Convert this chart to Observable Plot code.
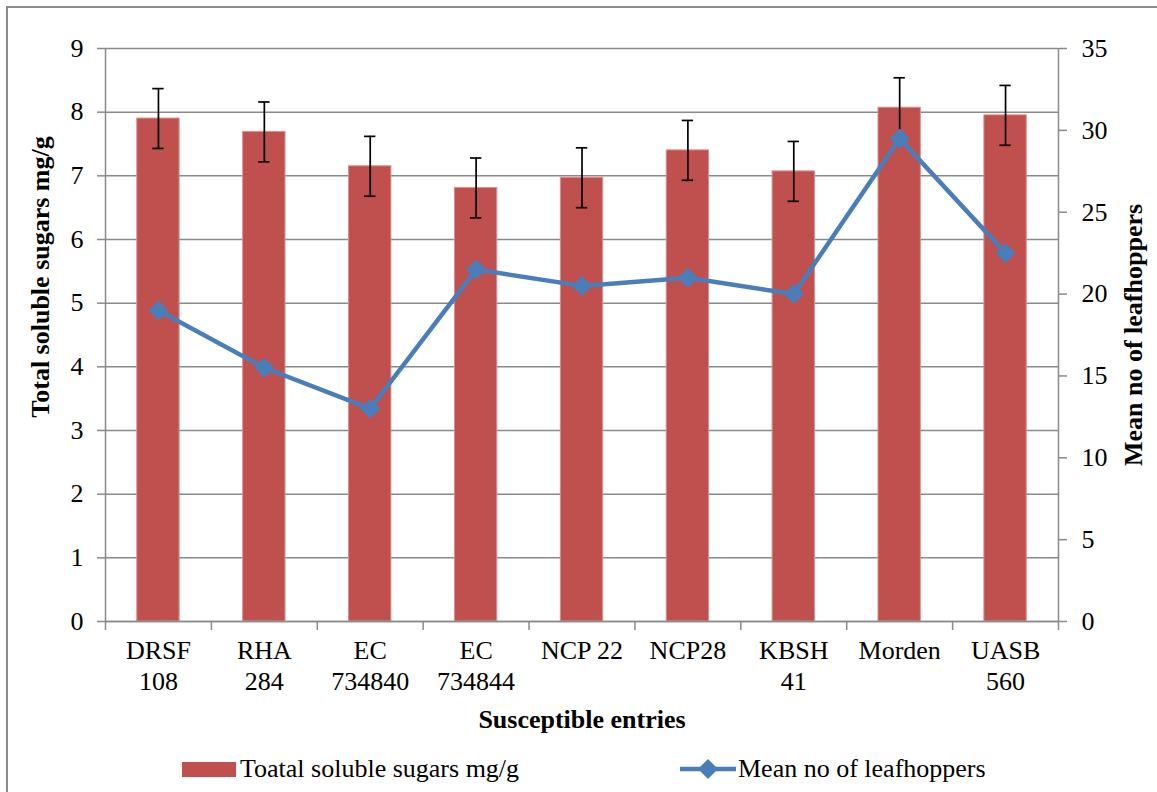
<!DOCTYPE html>
<html>
<head>
<meta charset="utf-8">
<script src="https://cdn.jsdelivr.net/npm/d3@7"></script>
<script src="https://cdn.jsdelivr.net/npm/@observablehq/plot@0.6"></script>
<style>
  html, body { margin: 0; padding: 0; background: #fff; overflow: hidden; }
  body { width: 1157px; height: 792px; position: relative; font-family: "Liberation Serif", "Times New Roman", serif; }
  #chart { position: absolute; left: 0; top: 0; }
  #chart svg, #chart svg text { font-family: "Liberation Serif", "Times New Roman", serif !important; }
  #frame { position: absolute; left: 6px; top: 6px; width: 1300px; height: 900px; border-left: 2px solid #8c8c8c; border-top: 2px solid #8c8c8c; z-index: 2; pointer-events: none; }
  .leg { position: absolute; font-size: 26px; line-height: 26px; color: #000; white-space: nowrap; }
</style>
</head>
<body>
<div id="chart"></div>
<div id="frame"></div>
<div id="legend"></div>
<script>
// ---- data ----
const categories = ["DRSF\n108", "RHA\n284", "EC\n734840", "EC\n734844", "NCP 22", "NCP28", "KBSH\n41", "Morden", "UASB\n560"];
const sugars = [7.90, 7.69, 7.15, 6.81, 6.97, 7.40, 7.07, 8.07, 7.95];
const sugarErrors = [0.47, 0.47, 0.47, 0.47, 0.47, 0.47, 0.47, 0.47, 0.47];
const leafhoppers = [19, 15.5, 13, 21.5, 20.5, 21, 20, 29.5, 22.5];
const leftTicks = [0, 1, 2, 3, 4, 5, 6, 7, 8, 9];
const rightTicks = [0, 5, 10, 15, 20, 25, 30, 35];
const leftMax = 9, rightMax = 35;
const seriesNames = ["Toatal soluble sugars mg/g", "Mean no of leafhoppers"];
const axisTitles = {left: "Total soluble sugars mg/g", right: "Mean no of leafhoppers", bottom: "Susceptible entries"};

const barColor = "#C0504D";
const lineColor = "#4A7EBB";
const gridColor = "#8a8a8a";
const serif = "'Liberation Serif', 'Times New Roman', serif";

const data = categories.map((c, i) => ({
  cat: c, sugar: sugars[i], err: sugarErrors[i], hop: leafhoppers[i]
}));
const toLeft = v => v * leftMax / rightMax;

const W = 1157, H = 745;
const mL = 105, mR = 99, mT = 48, mB = 124;
const step = (W - mL - mR) / categories.length;

const plot = Plot.plot({
  width: W, height: H,
  marginLeft: mL, marginRight: mR, marginTop: mT, marginBottom: mB,
  style: {fontFamily: serif, fontSize: "26px", background: "transparent", color: "#000"},
  x: {type: "band", domain: categories, paddingInner: 0.6, paddingOuter: 0.3, round: false},
  y: {domain: [0, leftMax]},
  marks: [
    Plot.gridY(leftTicks, {stroke: gridColor, strokeOpacity: 1, strokeWidth: 1.5}),
    Plot.axisY(leftTicks, {anchor: "left", tickSize: 8, tickPadding: 14, stroke: gridColor, strokeWidth: 1.5, label: null,
      fontSize: 26, fontFamily: serif, tickFormat: d => String(d)}),
    Plot.axisY(rightTicks.map(toLeft), {anchor: "right", tickSize: 8, tickPadding: 15, stroke: gridColor, strokeWidth: 1.5, label: null,
      fontSize: 26, fontFamily: serif, tickFormat: d => String(Math.round(d * rightMax / leftMax))}),
    Plot.axisX({tickSize: 0, tickPadding: 15, lineHeight: 1.2, label: null, fontSize: 26, fontFamily: serif}),
    Plot.barY(data, {x: "cat", y: "sugar", fill: barColor, stroke: "#d9908e", strokeWidth: 1}),
    // axis lines and category boundary ticks
    Plot.ruleX([categories[0]], {x: d => d, y1: leftMax, y2: 0, dx: -step / 2, insetBottom: -9, stroke: gridColor, strokeWidth: 1.5}),
    Plot.ruleX([categories[categories.length - 1]], {x: d => d, y1: leftMax, y2: 0, dx: step / 2, insetBottom: -9, stroke: gridColor, strokeWidth: 1.5}),
    Plot.ruleX(categories.slice(1), {x: d => d, y1: 0, y2: 0, dx: -step / 2, insetBottom: -9, stroke: gridColor, strokeWidth: 1.5}),
    Plot.ruleY([0], {stroke: gridColor, strokeWidth: 1.5}),
    // error bars
    Plot.ruleX(data, {x: "cat", y1: d => d.sugar - d.err, y2: d => d.sugar + d.err, stroke: "#000", strokeWidth: 1.7}),
    Plot.tickY(data, {x: "cat", y: d => d.sugar + d.err, stroke: "#000", strokeWidth: 1.7, insetLeft: 15.5, insetRight: 15.5}),
    Plot.tickY(data, {x: "cat", y: d => d.sugar - d.err, stroke: "#000", strokeWidth: 1.7, insetLeft: 15.5, insetRight: 15.5}),
    // leafhopper line
    Plot.line(data, {x: "cat", y: d => toLeft(d.hop), stroke: lineColor, strokeWidth: 4.5, strokeLinejoin: "round"}),
    Plot.dot(data, {x: "cat", y: d => toLeft(d.hop), symbol: "diamond2", r: 9, fill: lineColor, stroke: null}),
    // axis titles
    Plot.text([axisTitles.left], {frameAnchor: "left", textAnchor: "middle", lineAnchor: "middle", text: d => d, rotate: -90, dx: -65, dy: -58,
      fontWeight: "bold", fontSize: 26, fontFamily: serif}),
    Plot.text([axisTitles.right], {frameAnchor: "right", textAnchor: "middle", lineAnchor: "middle", text: d => d, rotate: -90, dx: 75,
      fontWeight: "bold", fontSize: 26, fontFamily: serif}),
    Plot.text([axisTitles.bottom], {frameAnchor: "bottom", textAnchor: "middle", lineAnchor: "middle", text: d => d, dy: 98,
      fontWeight: "bold", fontSize: 26, fontFamily: serif})
  ]
});
document.getElementById("chart").appendChild(plot);

// legend
const legend = document.getElementById("legend");
legend.innerHTML = `
  <div style="position:absolute;left:182px;top:762px;width:54px;height:15px;background:${barColor}"></div>
  <div class="leg" style="left:240px;top:756px">${seriesNames[0]}</div>
  <svg style="position:absolute;left:678px;top:757px" width="60" height="24">
    <line x1="2" y1="12" x2="58" y2="12" stroke="${lineColor}" stroke-width="4.5"/>
    <path d="M30,2 L40,12 L30,22 L20,12 Z" fill="${lineColor}"/>
  </svg>
  <div class="leg" style="left:738px;top:756px">${seriesNames[1]}</div>
`;
</script>
</body>
</html>
